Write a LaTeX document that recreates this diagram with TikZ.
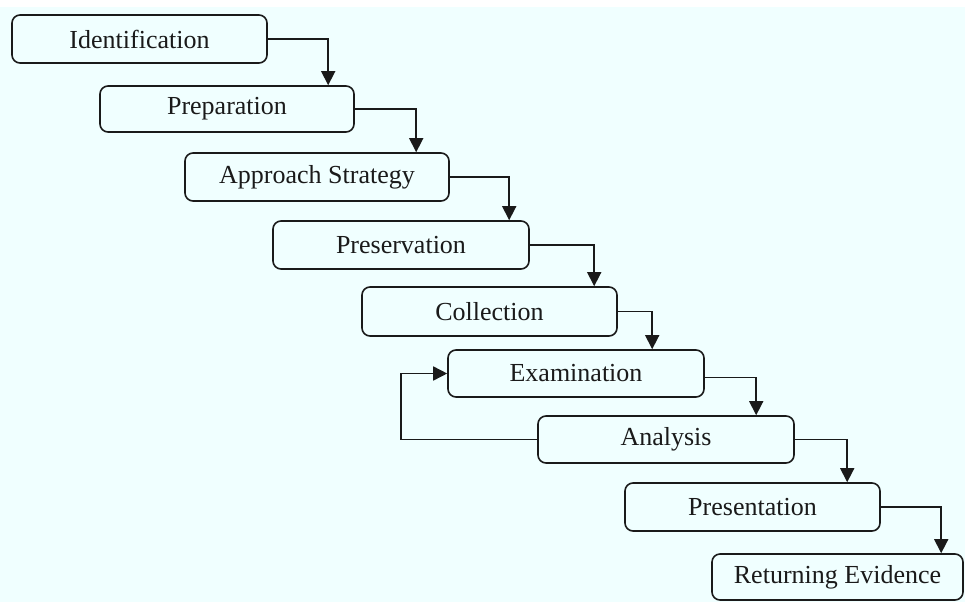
\documentclass[tikz,border=0pt]{standalone}
\usepackage{fontspec}
\setmainfont{Liberation Serif}
\usetikzlibrary{arrows.meta}
\definecolor{bgcyan}{HTML}{F0FFFF}
\definecolor{ink}{HTML}{1A1A1A}
\tikzset{
  stage/.style={draw=ink, line width=1.6pt, rounded corners=8pt, fill=bgcyan,
    inner sep=0pt, font=\fontsize{26}{30}\selectfont, text=ink},
  flow/.style={draw=ink, line width=1.6pt,
    -{Triangle[length=14pt,width=14pt]}},
}
\begin{document}
\begin{tikzpicture}[x=1pt,y=-1pt]
  \useasboundingbox (0,0) rectangle (965,602);
  \fill[white] (0,0) rectangle (965,602);
  \fill[bgcyan] (0,7) rectangle (965,602);

  \node[stage, minimum width=255pt, minimum height=48pt] (idf) at (139.5,39) {Identification};
  \node[stage, minimum width=254pt, minimum height=46pt] (prep) at (227,109) {Preparation};
  \node[stage, minimum width=264pt, minimum height=48pt] (appr) at (317,177) {Approach Strategy};
  \node[stage, minimum width=256pt, minimum height=48pt] (pres) at (401,245) {Preservation};
  \node[stage, minimum width=255pt, minimum height=49pt] (coll) at (489.5,311.5) {Collection};
  \node[stage, minimum width=256pt, minimum height=47pt] (exam) at (576,373.5) {Examination};
  \node[stage, minimum width=256pt, minimum height=47pt] (anal) at (666,439.5) {Analysis};
  \node[stage, minimum width=255pt, minimum height=48pt] (prst) at (752.5,507) {Presentation};
  \node[stage, minimum width=251pt, minimum height=46pt] (ret) at (837.5,577) {Returning Evidence};

  % step-down connectors
  \draw[flow] (idf.east)  -| ([xshift=229pt]prep.north west);
  \draw[flow] (prep.east) -| ([xshift=232pt]appr.north west);
  \draw[flow] (appr.east) -| ([xshift=237pt]pres.north west);
  \draw[flow] (pres.east) -| ([xshift=233pt]coll.north west);
  \draw[flow] (coll.east) -| ([xshift=205pt]exam.north west);
  \draw[flow] ([yshift=-4pt]exam.east) -| ([xshift=219pt]anal.north west);
  \draw[flow] (anal.east) -| ([xshift=223pt]prst.north west);
  \draw[flow] (prst.east) -| ([xshift=230pt]ret.north west);

  % feedback loop from analysis back to examination
  \draw[flow] (anal.west) -- ++(-136,0) |- (exam.west);
\end{tikzpicture}
\end{document}
